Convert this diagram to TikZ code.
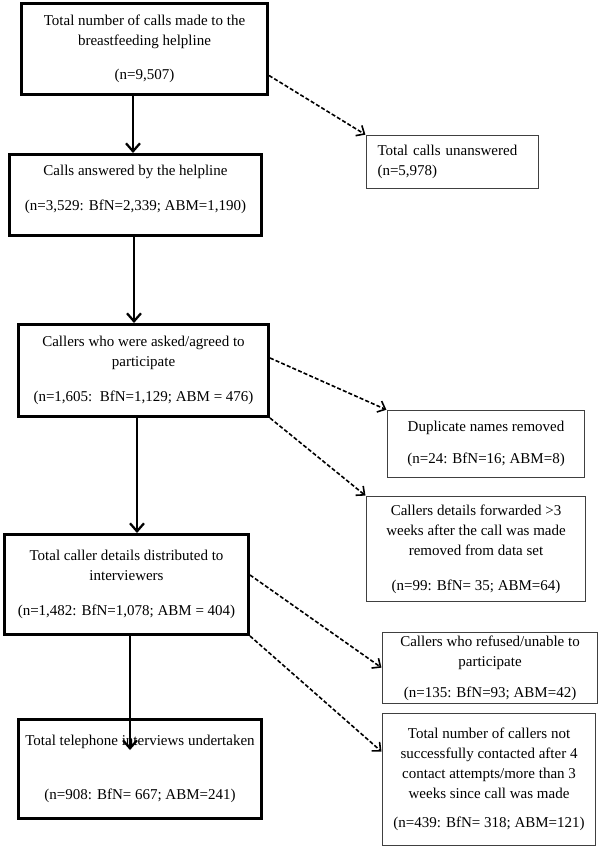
\documentclass[tikz,border=0pt]{standalone}
\usepackage{fontspec}
\setmainfont{Liberation Serif}
\usetikzlibrary{arrows.meta,calc}
\begin{document}
\begin{tikzpicture}[x=0.75pt,y=-0.75pt,
  every node/.style={font=\fontsize{11.25}{15}\selectfont},
  mainbox/.style={draw=black,line width=2.25pt,align=center,anchor=north west,inner sep=0pt},
  sidebox/.style={draw=black!75,line width=0.8pt,align=center,anchor=north west,inner sep=0pt},
  mainarrow/.style={line width=2.2pt,-{Straight Barb[length=6pt,width=10.5pt,line width=1.7pt]}},
  sidearrow/.style={line width=1.2pt,dash pattern=on 3pt off 1.6pt,shorten >=0.5pt,-{Straight Barb[length=5pt,width=9pt,line width=1.2pt]}}]
\useasboundingbox (0,0) rectangle (600,847);

\node[mainbox,minimum width=184.5pt,minimum height=68.6pt] (b1) at (20,1.5)
  {Total number of calls made to the\\breastfeeding helpline\\[11pt](n=9,507)};
\node[mainbox,minimum width=189pt,minimum height=60.75pt] (b2) at (8,153)
  {Calls answered by the helpline\\[11pt](n=3,529: BfN=2,339; ABM=1,190)\\[-4pt]\mbox{}};
\node[mainbox,minimum width=187.5pt,minimum height=69pt] (b3) at (17,323)
  {Callers who were asked/agreed to\\participate\\[11pt](n=1,605:\ \ BfN=1,129; ABM = 476)};
\node[mainbox,minimum width=183pt,minimum height=75pt] (b4) at (3,533)
  {Total caller details distributed to\\interviewers\\[11pt](n=1,482: BfN=1,078; ABM = 404)};
\node[mainbox,minimum width=182.25pt,minimum height=74.25pt] (b5) at (17,718)
  {Total telephone interviews undertaken\\[26pt](n=908: BfN= 667; ABM=241)};

\node[sidebox,align=left,text width=112.5pt,inner xsep=8.25pt,minimum height=39.75pt] (b6) at (366,135)
  {Total calls unanswered\\(n=5,978)};
\node[sidebox,minimum width=147.75pt,minimum height=50.25pt] (b7) at (387,410)
  {Duplicate names removed\\[9pt](n=24: BfN=16; ABM=8)};
\node[sidebox,minimum width=164.25pt,minimum height=78.75pt] (b8) at (366,496)
  {Callers details forwarded >3\\weeks after the call was made\\removed from data set\\[11pt](n=99: BfN= 35; ABM=64)};
\node[sidebox,minimum width=161.25pt,minimum height=53.25pt] (b9) at (382,632)
  {Callers who refused/unable to\\participate\\[8pt](n=135: BfN=93; ABM=42)};
\node[sidebox,minimum width=159.75pt,minimum height=99pt] (b10) at (382,713)
  {Total number of callers not\\successfully contacted after 4\\contact attempts/more than 3\\weeks since call was made\\[7pt](n=439: BfN= 318; ABM=121)};

\coordinate (c1) at (133,0);
\coordinate (c2) at (134,0);
\coordinate (c3) at (137,0);
\coordinate (t5) at (130,750);
\draw[mainarrow] (c1 |- b1.south) -- (c1 |- b2.north);
\draw[mainarrow] (c2 |- b2.south) -- (c2 |- b3.north);
\draw[mainarrow] (c3 |- b3.south) -- (c3 |- b4.north);
\draw[mainarrow] (t5 |- b4.south) -- (t5);

\draw[sidearrow] ($(b1.north east)+(0,74)$) -- (b6.north west);
\draw[sidearrow] ($(b3.north east)+(0,35)$) -- (b7.north west);
\draw[sidearrow] (b3.south east) -- (b8.north west);
\draw[sidearrow] ($(b4.north east)+(0,42)$) -- (b9.west);
\draw[sidearrow] (b4.south east) -- ($(b10.north west)+(0,39)$);
\end{tikzpicture}
\end{document}
